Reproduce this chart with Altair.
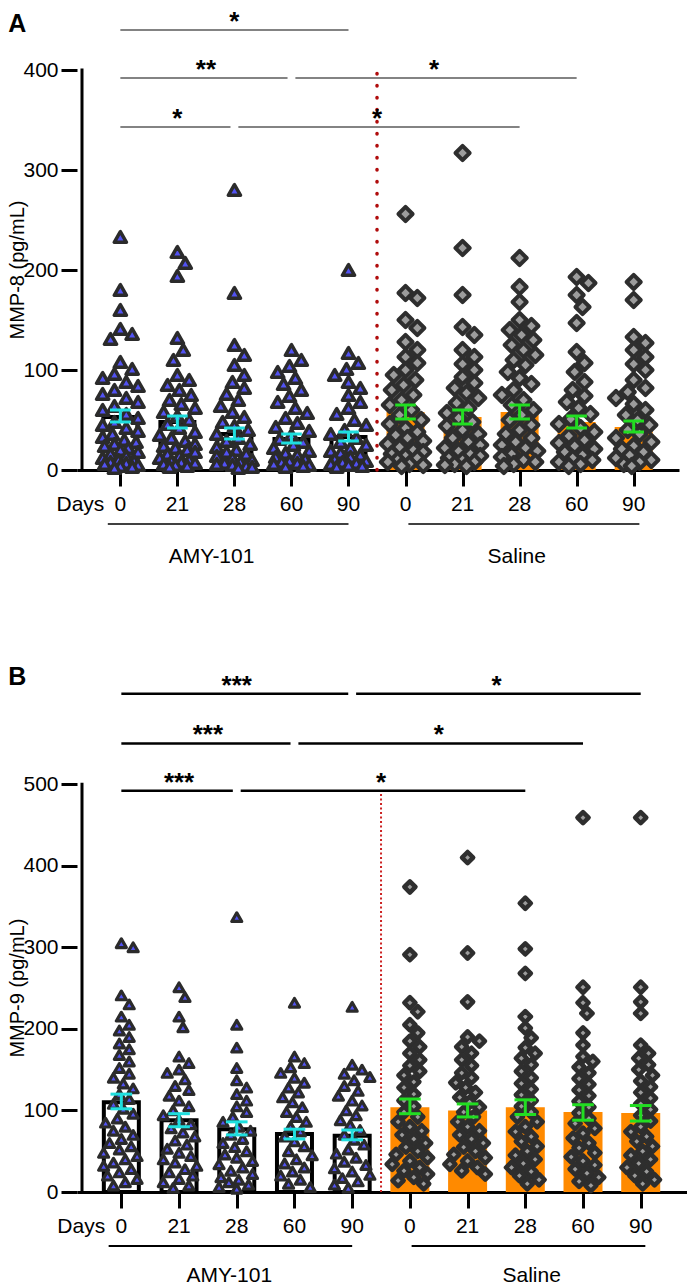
import altair as alt
import pandas as pd

# ---------------- data ----------------
day_labels = ["0", "21", "28", "60", "90", "0", "21", "28", "60", "90"]
treatment = ["AMY-101"] * 5 + ["Saline"] * 5

# Panel A : MMP-8 (pg/mL), individual values
mmp8_amy_d0 = [233, 180, 160, 141, 136, 131, 108, 101, 96, 92, 88, 84, 80, 76, 72, 68, 64, 60, 56, 52, 48, 45,
               42, 39, 36, 33, 30, 28, 26, 24, 22, 20, 18, 16, 14, 12, 10, 9, 8, 7, 6, 5, 4, 3, 2]
mmp8_amy_d21 = [218, 207, 194, 132, 120, 110, 95, 90, 85, 80, 75, 70, 66, 62, 58, 54, 50, 46, 42, 38, 35, 32,
                29, 26, 24, 22, 20, 18, 16, 14, 12, 10, 9, 8, 7, 6, 5, 4, 3]
mmp8_amy_d28 = [280, 177, 125, 115, 105, 95, 88, 82, 76, 70, 64, 58, 53, 48, 44, 40, 36, 32, 29, 26, 23, 20,
                18, 16, 14, 12, 10, 8, 7, 6, 5, 4, 3, 2]
mmp8_amy_d60 = [120, 110, 104, 98, 92, 86, 80, 74, 68, 62, 57, 52, 47, 43, 39, 35, 31, 28, 25, 22, 19, 17,
                15, 13, 11, 9, 8, 7, 6, 5, 4, 3]
mmp8_amy_d90 = [200, 117, 107, 101, 95, 88, 82, 75, 68, 62, 56, 50, 45, 40, 36, 32, 28, 25, 22, 19, 17, 15,
                13, 11, 9, 8, 7, 6, 5, 4, 3]
mmp8_sal_d0 = [256, 177, 172, 150, 142, 128, 120, 113, 107, 100, 95, 90, 85, 80, 75, 70, 65, 60, 55, 50, 46,
               42, 38, 35, 32, 29, 26, 23, 20, 18, 16, 14, 12, 10, 8, 6, 5, 4]
mmp8_sal_d21 = [317, 222, 175, 143, 135, 120, 113, 106, 100, 93, 87, 82, 77, 72, 67, 62, 57, 52, 48, 44, 40,
                36, 32, 28, 25, 22, 19, 16, 14, 12, 10, 8, 6, 5, 4]
mmp8_sal_d28 = [212, 183, 168, 150, 144, 140, 135, 130, 125, 120, 115, 110, 105, 98, 92, 86, 80, 75, 70, 65,
                60, 55, 50, 45, 40, 36, 32, 28, 25, 22, 19, 16, 13, 10, 8, 6, 4]
mmp8_sal_d60 = [193, 187, 175, 163, 147, 118, 107, 98, 88, 80, 74, 68, 62, 56, 51, 46, 42, 38, 34, 30, 27,
                24, 21, 18, 15, 12, 10, 8, 6, 4]
mmp8_sal_d90 = [188, 170, 133, 127, 120, 113, 106, 100, 90, 82, 78, 72, 66, 60, 55, 50, 45, 40, 36, 32, 28,
                24, 21, 18, 15, 12, 10, 8, 6, 4]
mmp8_mean = [53, 48, 36, 31, 33, 58, 53, 58, 48, 43]
mmp8_sem_low = [48, 42, 31, 27, 29, 51, 46, 51, 42, 38]
mmp8_sem_high = [60, 54, 42, 36, 38, 65, 60, 65, 54, 49]
mmp8_bracket_from = [0, 0, 3, 0, 2]
mmp8_bracket_to = [4, 3, 8, 2, 7]
mmp8_bracket_level = [440, 392, 392, 343, 343]
mmp8_bracket_label = ["*", "**", "*", "*", "*"]

# Panel B : MMP-9 (pg/mL), individual values
mmp9_amy_d0 = [305, 300, 241, 230, 215, 205, 198, 190, 182, 175, 168, 160, 152, 145, 140, 133, 127, 120, 114,
               108, 102, 96, 90, 85, 80, 75, 70, 65, 60, 56, 52, 48, 44, 40, 36, 32, 28, 24, 20, 16, 12, 8]
mmp9_amy_d21 = [251, 239, 215, 202, 166, 158, 150, 146, 138, 130, 125, 118, 112, 105, 100, 94, 88, 83, 78, 73,
                68, 63, 58, 53, 48, 44, 40, 36, 32, 28, 24, 20, 16, 12, 8, 5]
mmp9_amy_d28 = [337, 205, 177, 152, 137, 128, 120, 112, 105, 98, 92, 86, 80, 75, 70, 65, 60, 55, 50, 46, 42,
                38, 34, 30, 26, 22, 18, 15, 12, 9, 6, 4]
mmp9_amy_d60 = [232, 166, 158, 153, 146, 140, 134, 128, 122, 116, 110, 104, 98, 92, 86, 80, 74, 68, 62, 56, 50,
                45, 40, 35, 30, 25, 20, 15, 10, 6]
mmp9_amy_d90 = [227, 156, 150, 145, 141, 137, 130, 124, 118, 112, 106, 100, 94, 88, 82, 76, 70, 64, 58, 52, 47,
                42, 37, 33, 29, 25, 21, 17, 13, 9, 5]
mmp9_sal_d0 = [374, 291, 232, 221, 205, 195, 185, 178, 170, 162, 155, 148, 143, 135, 128, 120, 112, 105, 98, 92,
               86, 80, 75, 70, 65, 60, 55, 50, 46, 42, 38, 34, 30, 26, 22, 18, 14, 10]
mmp9_sal_d21 = [410, 293, 233, 190, 185, 178, 170, 162, 155, 146, 140, 134, 128, 122, 116, 110, 104, 98, 92, 86,
                80, 75, 70, 65, 60, 55, 50, 46, 42, 38, 34, 30, 26, 22]
mmp9_sal_d28 = [354, 298, 268, 215, 201, 189, 177, 170, 164, 156, 148, 140, 133, 126, 119, 112, 105, 98, 92, 86,
                80, 74, 68, 62, 56, 50, 45, 40, 35, 30, 25, 20, 15, 10]
mmp9_sal_d60 = [459, 251, 232, 219, 195, 180, 166, 160, 153, 146, 139, 132, 125, 118, 111, 104, 97, 90, 84, 78,
                72, 66, 60, 54, 48, 43, 38, 33, 28, 23, 18, 13, 8]
mmp9_sal_d90 = [459, 251, 233, 219, 180, 170, 164, 156, 150, 143, 136, 129, 122, 115, 108, 101, 94, 87, 80, 74,
                68, 62, 56, 50, 45, 40, 35, 30, 25, 20, 15, 10]
mmp9_mean = [110, 88, 77, 71, 69, 104, 100, 104, 98, 97]
mmp9_sem_low = [102, 80, 70, 65, 64, 96, 92, 95, 88, 87]
mmp9_sem_high = [120, 96, 86, 77, 76, 114, 108, 113, 107, 106]
mmp9_bracket_from = [0, 4, 0, 3, 0, 2]
mmp9_bracket_to = [4, 9, 3, 8, 2, 7]
mmp9_bracket_level = [611, 611, 550, 550, 492, 492]
mmp9_bracket_label = ["***", "*", "***", "*", "***", "*"]

FONT = "Liberation Sans"
ORANGE = "#ff8a00"


def swarm_offsets(values, ppu, diam, step=2.0, limit=18.0):
    """Deterministic beeswarm layout: pixel offsets for each value."""
    n = int(limit // step)
    cands = sorted([s * step for s in range(-n, n + 1)], key=lambda o: (abs(o), -o))
    placed = []
    result = [0.0] * len(values)
    order = sorted(range(len(values)), key=lambda i: -values[i])
    for i in order:
        y = values[i] * ppu
        chosen, best, best_d = None, 0.0, -1.0
        for c in cands:
            dmin = min([((c - px) ** 2 + (y - py) ** 2) ** 0.5 for px, py in placed], default=1e9)
            if dmin >= diam:
                chosen = c
                break
            if dmin > best_d:
                best_d, best = dmin, c
        if chosen is None:
            chosen = best
        placed.append((chosen, y))
        result[i] = chosen
    return result


def panel(P, lists, means, lo, hi, bfrom, bto, blevel, blabel, ytitle, letter):
    k = P["k"]
    ppu = P["height"] / P["ymax"]
    xmin = -P["first_px"] / k
    xmax = xmin + P["width"] / k
    xs = alt.Scale(domain=[xmin, xmax], nice=False, zero=False)
    ys = alt.Scale(domain=[0, P["ymax"]], nice=False, zero=False)
    xaxis = alt.Axis(values=list(range(10)), labels=False, title=None, grid=False, domainColor="black",
                     domainWidth=3, tickColor="black", tickWidth=3, tickSize=16)
    yaxis = alt.Axis(values=list(range(0, P["axis_max"] + 1, 100)), domain=False, grid=False, title=None,
                     tickColor="black", tickWidth=3, tickSize=16, labelFontSize=21, labelColor="black",
                     labelPadding=3, labelFont=FONT)

    def X(f):
        return alt.X(f, type="quantitative", scale=xs, axis=xaxis)

    def Y(f):
        return alt.Y(f, type="quantitative", scale=ys, axis=yaxis)

    def below(px):  # data y for a distance in px below the x axis
        return -px / ppu

    # points
    rows = []
    for i, vals in enumerate(lists):
        offs = swarm_offsets(vals, ppu, P["diam"])
        for v, o in zip(vals, offs):
            rows.append({"idx": i, "xpos": i + o / k, "value": v, "grp": treatment[i]})
    pts = pd.DataFrame(rows)

    bars = pd.DataFrame({"idx": list(range(10)), "mean": means, "lo": lo, "hi": hi, "grp": treatment})
    cap = P["cap_px"] / 2 / k
    bars["c1"] = bars["idx"] - cap
    bars["c2"] = bars["idx"] + cap

    ecol = alt.Color("grp:N", scale=alt.Scale(domain=["AMY-101", "Saline"], range=["#1fdede", "#22dd22"]),
                     legend=None)

    layers = []
    amy_bars = alt.Chart(bars[bars.grp == "AMY-101"]).mark_bar(
        size=P["bar_w"] - 4, fill="white", stroke="black", strokeWidth=4
    ).encode(x=X("idx"), y=Y("mean"), y2=alt.datum(0))
    sal_bars = alt.Chart(bars[bars.grp == "Saline"]).mark_bar(size=P["bar_w"], color=ORANGE).encode(
        x=X("idx"), y=Y("mean"), y2=alt.datum(0))
    layers += [amy_bars, sal_bars]

    tri = alt.Chart(pts[pts.grp == "AMY-101"]).mark_point(
        shape="triangle-up", filled=True, size=P["tri_size"], fill="#5252f2", stroke="#2b2b2b",
        strokeWidth=P["tri_sw"], strokeJoin="round", opacity=1
    ).encode(x=X("xpos"), y=Y("value"))
    dia = alt.Chart(pts[pts.grp == "Saline"]).mark_point(
        shape="diamond", filled=True, size=P["dia_size"], fill="#9c9c9c", stroke="#2e2e2e",
        strokeWidth=P["dia_sw"], strokeJoin="round", opacity=1
    ).encode(x=X("xpos"), y=Y("value"))
    layers += [tri, dia]

    base_err = alt.Chart(bars)
    layers.append(base_err.mark_rule(strokeWidth=3).encode(x=X("idx"), y=Y("lo"), y2="hi:Q", color=ecol))
    for f in ["lo", "hi"]:
        layers.append(base_err.mark_rule(strokeWidth=3).encode(x=X("c1"), x2="c2:Q", y=Y(f), color=ecol))

    # y axis line
    yline = pd.DataFrame({"x": [xmin], "y0": [0], "y1": [P["axis_max"]]})
    layers.append(alt.Chart(yline).mark_rule(strokeWidth=3, color="black", strokeCap="square").encode(
        x=X("x"), y=Y("y0"), y2="y1:Q"))

    # red dotted divider between the two treatment groups
    div = pd.DataFrame({"x": [4.5], "y0": [0], "y1": [P["div_top"]]})
    layers.append(alt.Chart(div).mark_rule(**P["div_style"]).encode(x=X("x"), y=Y("y0"), y2="y1:Q"))

    # significance brackets
    br = pd.DataFrame({"a": bfrom, "b": bto, "lvl": blevel, "lab": blabel})
    gap = 4 / k
    br["x1"] = [a + (gap if any((b2 == a and l2 == l) for b2, l2 in zip(bto, blevel)) else 0)
                for a, l in zip(bfrom, blevel)]
    br["x2"] = [b - (gap if any((a2 == b and l2 == l) for a2, l2 in zip(bfrom, blevel)) else 0)
                for b, l in zip(bto, blevel)]
    br["mid"] = (br["a"] + br["b"]) / 2
    br["ty"] = br["lvl"]
    layers.append(alt.Chart(br).mark_rule(strokeWidth=P["br_w"], color=P["br_col"]).encode(
        x=X("x1"), x2="x2:Q", y=Y("lvl")))
    layers.append(alt.Chart(br).mark_text(fontSize=26, fontWeight="bold", font=FONT, color="black",
                                          baseline="alphabetic", align="center").encode(
        x=X("mid"), y=Y("ty"), text="lab:N"))

    # x tick labels and "Days"
    xl = pd.DataFrame({"idx": list(range(10)), "lab": day_labels, "y": [below(35)] * 10})
    layers.append(alt.Chart(xl).mark_text(fontSize=21, font=FONT, color="black", baseline="middle",
                                          align="center").encode(x=X("idx"), y=Y("y"), text="lab:N"))
    dl = pd.DataFrame({"x": [-0.28], "y": [below(35)], "lab": ["Days"]})
    layers.append(alt.Chart(dl).mark_text(fontSize=21, font=FONT, color="black", baseline="middle",
                                          align="right").encode(x=X("x"), y=Y("y"), text="lab:N"))

    # treatment group underline + names
    gl = pd.DataFrame({"x1": P["gline_from"], "x2": P["gline_to"], "y": [below(54)] * 2,
                       "lx": P["glabel_at"], "ly": [below(P["glabel_px"])] * 2, "lab": ["AMY-101", "Saline"]})
    layers.append(alt.Chart(gl).mark_rule(strokeWidth=P["gline_w"], color="black").encode(
        x=X("x1"), x2="x2:Q", y=Y("y")))
    layers.append(alt.Chart(gl).mark_text(fontSize=21, font=FONT, color="black", baseline="middle",
                                          align="center").encode(x=X("lx"), y=Y("ly"), text="lab:N"))

    # panel letter and y title
    left = xmin - 75 / k
    lt = pd.DataFrame({"x": [left], "y": [P["ymax"] + P["letter_up"] / ppu], "lab": [letter]})
    layers.append(alt.Chart(lt).mark_text(fontSize=25, fontWeight="bold", font=FONT, color="black",
                                          baseline="top", align="left").encode(
        x=X("x"), y=Y("y"), text="lab:N"))
    yt = pd.DataFrame({"x": [left], "y": [P["axis_max"] / 2], "lab": [ytitle]})
    layers.append(alt.Chart(yt).mark_text(fontSize=20, font=FONT, color="black", baseline="top",
                                          align="center", angle=270).encode(
        x=X("x"), y=Y("y"), text="lab:N"))

    return alt.layer(*layers).properties(width=P["width"], height=P["height"])


PA = dict(width=602, height=460, ymax=460.0, k=58.0, first_px=39, axis_max=400, diam=13,
          bar_w=38, cap_px=21, tri_size=150, tri_sw=3.5, dia_size=200, dia_sw=4,
          div_top=402, div_style=dict(color="#b00c0c", strokeWidth=3.5, strokeDash=[0.5, 11.5],
                                      strokeCap="round"),
          br_w=1.5, br_col="#5a5a5a", gline_from=[-0.22, 5.05], gline_to=[4.0, 9.1], gline_w=1.5,
          glabel_at=[1.6, 6.95], glabel_px=87, letter_up=-2)
PB = dict(width=610, height=522, ymax=640.0, k=58.67, first_px=40, axis_max=500, diam=11,
          bar_w=39, cap_px=22, tri_size=100, tri_sw=3.2, dia_size=125, dia_sw=4.5,
          div_top=492, div_style=dict(color="#cc2222", strokeWidth=2, strokeDash=[2, 2.5]),
          br_w=2.5, br_col="black", gline_from=[-0.22, 5.03], gline_to=[4.0, 9.08], gline_w=2,
          glabel_at=[1.87, 7.11], glabel_px=84, letter_up=5)

chart_a = panel(PA, [mmp8_amy_d0, mmp8_amy_d21, mmp8_amy_d28, mmp8_amy_d60, mmp8_amy_d90,
                     mmp8_sal_d0, mmp8_sal_d21, mmp8_sal_d28, mmp8_sal_d60, mmp8_sal_d90],
                mmp8_mean, mmp8_sem_low, mmp8_sem_high, mmp8_bracket_from, mmp8_bracket_to,
                mmp8_bracket_level, mmp8_bracket_label, "MMP-8 (pg/mL)", "A")
chart_b = panel(PB, [mmp9_amy_d0, mmp9_amy_d21, mmp9_amy_d28, mmp9_amy_d60, mmp9_amy_d90,
                     mmp9_sal_d0, mmp9_sal_d21, mmp9_sal_d28, mmp9_sal_d60, mmp9_sal_d90],
                mmp9_mean, mmp9_sem_low, mmp9_sem_high, mmp9_bracket_from, mmp9_bracket_to,
                mmp9_bracket_level, mmp9_bracket_label, "MMP-9 (pg/mL)", "B")

chart = alt.VConcatChart(vconcat=[chart_a, chart_b], spacing=200, bounds="flush", padding=0)
chart = chart.configure(font=FONT, view=alt.ViewConfig(stroke=None))
chart.save("out.html", embed_options={"renderer": "svg", "actions": False})
